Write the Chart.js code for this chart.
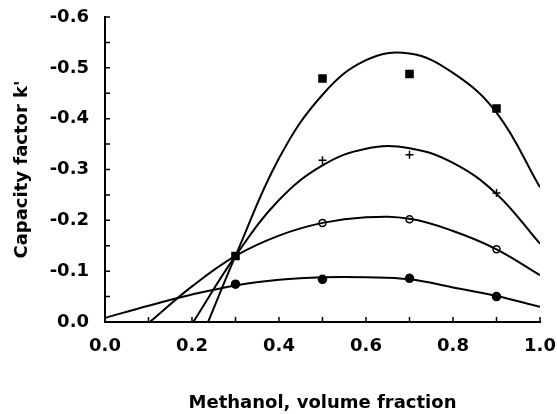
<!DOCTYPE html>
<html>
<head>
<meta charset="utf-8">
<script src="https://cdn.jsdelivr.net/npm/chart.js@4"></script>
<style>
  html, body { margin: 0; padding: 0; background: #fff; }
  #wrap { width: 557px; height: 414px; }
</style>
</head>
<body>
<div id="wrap"><canvas id="chart"></canvas></div>
<script>
// measured points (capacity factor k', negative values)
const measX = [0.5, 0.7, 0.9];
const squares = [-0.479, -0.488, -0.42];
const crosses = [-0.318, -0.329, -0.254];
const openCircles = [-0.195, -0.202, -0.143];
const dotX = [0.3, 0.5, 0.7, 0.9];
const dots = [-0.0745, -0.084, -0.086, -0.05];
const commonPoint = [0.3, -0.13];

// fitted curves
const curve1X = [0.237, 0.3, 0.4, 0.5, 0.6, 0.7, 0.8, 0.9, 1.0];
const curve1Y = [0, -0.13, -0.322, -0.447, -0.515, -0.528, -0.49, -0.412, -0.265];
const curve2X = [0.203, 0.3, 0.4, 0.5, 0.6, 0.7, 0.8, 0.9, 1.0];
const curve2Y = [0, -0.13, -0.24, -0.308, -0.341, -0.342, -0.313, -0.252, -0.154];
const curve3X = [0.103, 0.2, 0.3, 0.4, 0.5, 0.6, 0.7, 0.8, 0.9, 1.0];
const curve3Y = [0, -0.07, -0.13, -0.17, -0.195, -0.206, -0.203, -0.179, -0.143, -0.092];
const curve4X = [0.0, 0.1, 0.2, 0.3, 0.4, 0.5, 0.6, 0.7, 0.8, 0.9, 1.0];
const curve4Y = [-0.008, -0.032, -0.054, -0.072, -0.083, -0.088, -0.088, -0.084, -0.068, -0.051, -0.03];

const xTicks = [0, 0.2, 0.4, 0.6, 0.8, 1.0];
const yTicks = [0, -0.1, -0.2, -0.3, -0.4, -0.5, -0.6];

function pts(xs, ys) {
  return xs.map((x, i) => ({ x: x, y: ys[i] }));
}

function curve(xs, ys) {
  return {
    type: 'line',
    data: pts(xs, ys),
    borderColor: '#000',
    borderWidth: 2,
    pointRadius: 0,
    fill: false,
    tension: 0.4
  };
}

function marks(data, style, radius, filled) {
  return {
    type: 'scatter',
    data: data,
    pointStyle: style,
    pointRadius: radius,
    pointBackgroundColor: filled ? '#000' : '#fff',
    pointBorderColor: '#000',
    pointBorderWidth: 1.5,
    showLine: false
  };
}

// inward tick marks, drawn from the scales
const innerTicks = {
  id: 'innerTicks',
  afterDraw(chart) {
    const ctx = chart.ctx;
    const xs = chart.scales.x, ys = chart.scales.y;
    ctx.save();
    ctx.strokeStyle = '#000';
    ctx.lineWidth = 1.5;
    ctx.beginPath();
    for (let i = 1; i <= 10; i++) {
      const px = xs.getPixelForValue(i / 10);
      ctx.moveTo(px, xs.top);
      ctx.lineTo(px, xs.top - 5);
    }
    for (let i = 1; i <= 12; i++) {
      const py = ys.getPixelForValue(-i * 0.05);
      ctx.moveTo(ys.right, py);
      ctx.lineTo(ys.right + 5, py);
    }
    ctx.stroke();
    ctx.restore();
  }
};

const tickFont = { family: 'DejaVu Sans', weight: 'bold', size: 18 };
const titleFont = { family: 'DejaVu Sans', weight: 'bold', size: 18 };

new Chart(document.getElementById('chart'), {
  data: {
    datasets: [
      curve(curve1X, curve1Y),
      curve(curve2X, curve2Y),
      curve(curve3X, curve3Y),
      curve(curve4X, curve4Y),
      marks(pts(measX, squares).concat([{ x: commonPoint[0], y: commonPoint[1] }]), 'rect', 5, true),
      marks(pts(measX, crosses), 'cross', 4, true),
      marks(pts(measX, openCircles), 'circle', 3.5, false),
      marks(pts(dotX, dots), 'circle', 4, true)
    ]
  },
  options: {
    responsive: true,
    maintainAspectRatio: false,
    animation: false,
    layout: { padding: { top: 17, right: 17, left: 0, bottom: 0 } },
    plugins: { legend: { display: false }, tooltip: { enabled: false } },
    scales: {
      x: {
        type: 'linear',
        min: 0,
        max: 1,
        afterBuildTicks: (s) => { s.ticks = xTicks.map(v => ({ value: v })); },
        afterFit: (s) => {
          s.height = 92;
          s.paddingLeft = 0;
          s.paddingRight = 0;
        },
        grid: { display: false, drawTicks: false },
        border: { display: true, color: '#000', width: 2 },
        ticks: {
          color: '#000',
          font: tickFont,
          padding: 14,
          maxRotation: 0,
          callback: (v) => v.toFixed(1)
        },
        title: {
          display: true,
          text: 'Methanol, volume fraction',
          color: '#000',
          font: titleFont,
          padding: { top: 0, bottom: 0 }
        }
      },
      y: {
        type: 'linear',
        reverse: true,
        min: -0.6,
        max: 0,
        afterBuildTicks: (s) => { s.ticks = yTicks.map(v => ({ value: v })); },
        afterFit: (s) => {
          s.width = 105;
          s.paddingTop = 0;
          s.paddingBottom = 0;
        },
        grid: { display: false, drawTicks: false },
        border: { display: true, color: '#000', width: 2 },
        ticks: {
          color: '#000',
          font: tickFont,
          padding: 16,
          callback: (v) => (Math.abs(v) < 1e-9 ? '0.0' : v.toFixed(1))
        },
        title: {
          display: true,
          text: "Capacity factor k'",
          color: '#000',
          font: titleFont,
          padding: { top: 12, bottom: 0 }
        }
      }
    }
  },
  plugins: [innerTicks]
});
</script>
</body>
</html>
